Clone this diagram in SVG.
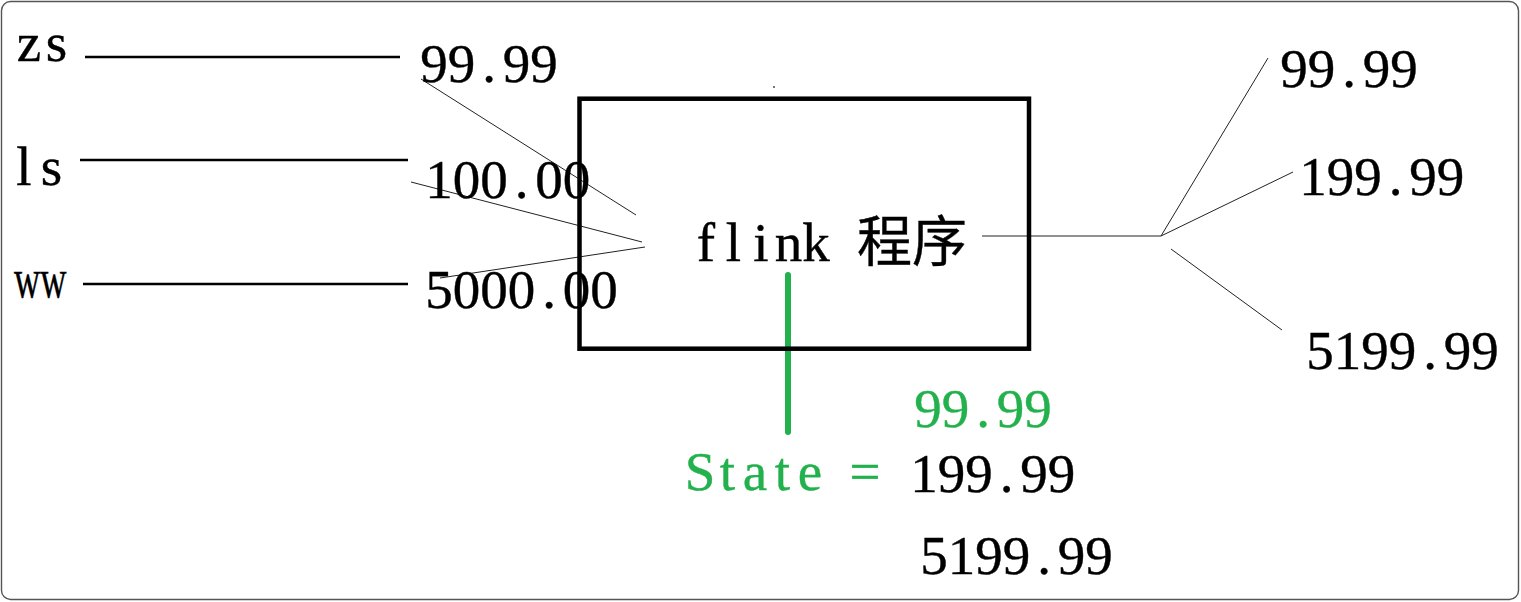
<svg xmlns="http://www.w3.org/2000/svg" width="1521" height="602" viewBox="0 0 1521 602">
<style>
  .t { font-family: "Liberation Serif", "Noto Sans CJK SC", serif; font-size: 55px; fill: #000; stroke: #000; stroke-width: 0.4; text-anchor: middle; }
  .g { fill: #22b14c; stroke: #22b14c; }
  .thick { stroke: #000; stroke-width: 2.5; fill: none; }
  .thin { stroke: #222; stroke-width: 1; fill: none; }
</style>
<rect x="1.5" y="1.5" width="1517" height="598" rx="9" fill="#fff" stroke="#555" stroke-width="1.4"/>
<g id="connectors">
  <line class="thick" x1="85" y1="57" x2="400" y2="57"/>
  <line class="thick" x1="80" y1="160" x2="408" y2="160"/>
  <line class="thick" x1="83" y1="284" x2="408" y2="284"/>
  <line class="thin" x1="421" y1="79" x2="636" y2="215"/>
  <line class="thin" x1="411" y1="182" x2="642" y2="242"/>
  <line class="thin" x1="440" y1="278" x2="645" y2="247"/>
  <line class="thin" x1="982" y1="236" x2="1161" y2="236"/>
  <line class="thin" x1="1161" y1="236" x2="1268" y2="58"/>
  <line class="thin" x1="1161" y1="236" x2="1293" y2="172"/>
  <line class="thin" x1="1171" y1="249" x2="1282" y2="330"/>
  <line x1="788" y1="275" x2="788" y2="432" stroke="#22b14c" stroke-width="6" stroke-linecap="round"/>
</g>
<g id="inputs">
  <text class="t" y="61" x="29 56.5">zs</text>
  <text class="t" y="185" x="24 51.5">ls</text>
  <text class="t" transform="translate(14,297) scale(0.66,1)" x="0" y="0" style="text-anchor:start">ww</text>
  <text class="t" y="82" x="434 461.5 489 516.5 544">99.99</text>
  <text class="t" y="198" x="439 466.5 494 521.5 549 576.5">100.00</text>
  <text class="t" y="308" x="439 466.5 494 521.5 549 576.5 604">5000.00</text>
</g>
<g id="flink">
  <rect x="579.5" y="98.7" width="449.5" height="250" fill="none" stroke="#000" stroke-width="4.5"/>
  <text class="t" y="261" x="706 733.5 761 788.5 816 843.5 884.5 939.5">flink 程序</text>
  <rect x="773" y="86" width="2" height="2" fill="#777"/>
</g>
<g id="outputs">
  <text class="t" y="87" x="1294 1321.5 1349 1376.5 1404">99.99</text>
  <text class="t" y="195" x="1313 1340.5 1368 1395.5 1423 1450.5">199.99</text>
  <text class="t" y="369" x="1320 1347.5 1375 1402.5 1430 1457.5 1485">5199.99</text>
</g>
<g id="state">
  <text class="t g" y="427" x="928 955.5 983 1010.5 1038">99.99</text>
  <text class="t g" y="490" x="700 727.5 755 782.5 810 837.5 865">State =</text>
  <text class="t" y="492" x="924 951.5 979 1006.5 1034 1061.5">199.99</text>
  <text class="t" y="574" x="934 961.5 989 1016.5 1044 1071.5 1099">5199.99</text>
</g>
</svg>
